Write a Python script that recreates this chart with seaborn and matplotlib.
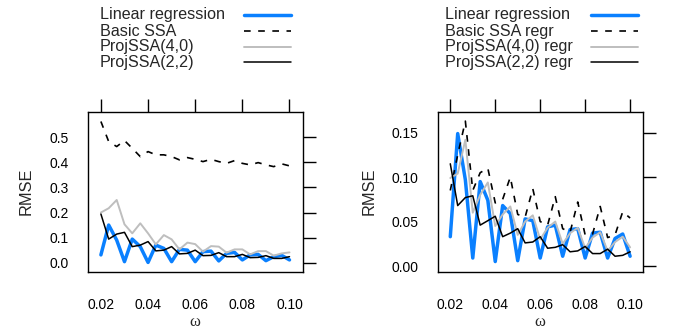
import matplotlib
matplotlib.use("Agg")
import matplotlib.pyplot as plt
from matplotlib.lines import Line2D
import seaborn as sns

# ── Data ──────────────────────────────────────────────────
omega = [0.0200, 0.0233, 0.0267, 0.0300, 0.0333, 0.0367, 0.0400, 0.0433, 0.0467,
         0.0500, 0.0533, 0.0567, 0.0600, 0.0633, 0.0667, 0.0700, 0.0733, 0.0767,
         0.0800, 0.0833, 0.0867, 0.0900, 0.0933, 0.0967, 0.1000]

# left panel: plain estimates
left_linreg = [0.031, 0.150, 0.090, 0.004, 0.094, 0.064, 0.001, 0.070, 0.057,
               0.004, 0.053, 0.050, 0.004, 0.044, 0.046, 0.007, 0.037, 0.041,
               0.011, 0.031, 0.033, 0.008, 0.024, 0.029, 0.011]
left_basic = [0.563, 0.483, 0.463, 0.487, 0.456, 0.423, 0.443, 0.430, 0.430,
              0.423, 0.410, 0.419, 0.412, 0.403, 0.412, 0.403, 0.396, 0.407,
              0.396, 0.390, 0.399, 0.390, 0.383, 0.394, 0.386]
left_proj40 = [0.200, 0.217, 0.250, 0.153, 0.117, 0.157, 0.117, 0.073, 0.110,
               0.093, 0.053, 0.080, 0.074, 0.044, 0.066, 0.064, 0.040, 0.053,
               0.053, 0.033, 0.046, 0.046, 0.028, 0.037, 0.041]
left_proj22 = [0.194, 0.094, 0.114, 0.121, 0.064, 0.070, 0.084, 0.047, 0.050,
               0.064, 0.035, 0.037, 0.050, 0.028, 0.029, 0.040, 0.024, 0.024,
               0.033, 0.020, 0.021, 0.028, 0.017, 0.017, 0.024]

# right panel: regression versions
right_linreg = [0.033, 0.149, 0.097, 0.009, 0.095, 0.074, 0.005, 0.068, 0.059,
                0.006, 0.053, 0.051, 0.009, 0.044, 0.046, 0.011, 0.041, 0.042,
                0.009, 0.037, 0.038, 0.009, 0.031, 0.036, 0.011]
right_basic = [0.085, 0.125, 0.163, 0.085, 0.105, 0.110, 0.071, 0.075, 0.100,
               0.058, 0.055, 0.087, 0.050, 0.046, 0.078, 0.042, 0.038, 0.072,
               0.035, 0.036, 0.067, 0.032, 0.035, 0.061, 0.054]
right_proj40 = [0.099, 0.104, 0.142, 0.060, 0.080, 0.094, 0.045, 0.058, 0.067,
                0.035, 0.050, 0.057, 0.030, 0.043, 0.050, 0.025, 0.037, 0.043,
                0.020, 0.032, 0.038, 0.017, 0.027, 0.033, 0.021]
right_proj22 = [0.115, 0.068, 0.077, 0.079, 0.046, 0.051, 0.056, 0.033, 0.037,
                0.042, 0.026, 0.027, 0.033, 0.020, 0.021, 0.024, 0.016, 0.017,
                0.022, 0.014, 0.014, 0.019, 0.011, 0.012, 0.016]

left_labels = ["Linear regression", "Basic SSA", "ProjSSA(4,0)", "ProjSSA(2,2)"]
right_labels = ["Linear regression", "Basic SSA regr", "ProjSSA(4,0) regr", "ProjSSA(2,2) regr"]

# ── Style ─────────────────────────────────────────────────
sns.set_style("white")
plt.rcParams['font.family'] = ['Liberation Sans', 'DejaVu Sans']

BLUE = '#0A80FF'
GREY = '#BEBEBE'
DASH = (0, (4, 4.5))
styles = [dict(color=BLUE, lw=2.5, ls='-'),
          dict(color='black', lw=1.2, ls=DASH),
          dict(color=GREY, lw=1.4, ls='-'),
          dict(color='black', lw=1.1, ls='-')]

W, H = 677, 333
fig = plt.figure(figsize=(W / 100, H / 100), dpi=100)


def add_panel(x0, x1, series, yticks, ylabels, ylim):
    ax = fig.add_axes([x0 / W, 1 - 271.7 / H, (x1 - x0) / W, 160 / H])
    for vals, st in zip(series, styles):
        sns.lineplot(x=omega, y=vals, ax=ax, color=st['color'], linewidth=st['lw'],
                     linestyle=st['ls'], estimator=None, sort=False)
    ax.set_xlim(0.0144, 0.1056)
    ax.set_ylim(*ylim)
    ax.set_xticks([0.02, 0.04, 0.06, 0.08, 0.10])
    ax.set_xticklabels(['0.02', '0.04', '0.06', '0.08', '0.10'])
    ax.set_yticks(yticks)
    ax.set_yticklabels(ylabels)
    ax.tick_params(axis='both', which='both', direction='out', length=9.7, width=1.0,
                   top=True, right=True, labelsize=10, colors='black')
    ax.tick_params(axis='x', pad=9)
    ax.tick_params(axis='y', pad=4)
    for s in ax.spines.values():
        s.set_visible(True)
        s.set_linewidth(1.0)
        s.set_color('black')
    ax.set_xlabel('ω', family=['Liberation Serif', 'DejaVu Serif'], fontsize=12, labelpad=2)
    ax.set_ylabel('RMSE', fontsize=11.8, labelpad=11)
    return ax


def add_legend(text_x, line_x0, line_x1, labels):
    rows = [15, 31.3, 46.7, 62.3]
    for y, lab, st in zip(rows, labels, styles):
        fig.text(text_x / W, 1 - y / H, lab, fontsize=11.6, va='center', ha='left')
        fig.add_artist(Line2D([line_x0 / W, line_x1 / W], [1 - y / H, 1 - y / H],
                              color=st['color'], lw=st['lw'], ls=st['ls'],
                              transform=fig.transFigure))


ax1 = add_panel(87.7, 302.7, [left_linreg, left_basic, left_proj40, left_proj22],
                [0.0, 0.1, 0.2, 0.3, 0.4, 0.5], ['0.0', '0.1', '0.2', '0.3', '0.4', '0.5'],
                (-0.036, 0.602))
ax2 = add_panel(437.7, 642.7, [right_linreg, right_basic, right_proj40, right_proj22],
                [0.0, 0.05, 0.10, 0.15], ['0.00', '0.05', '0.10', '0.15'],
                (-0.0064, 0.1736))

add_legend(100, 244, 290.7, left_labels)
add_legend(445.3, 590.7, 637.7, right_labels)

fig.savefig('out.png', dpi=100)
